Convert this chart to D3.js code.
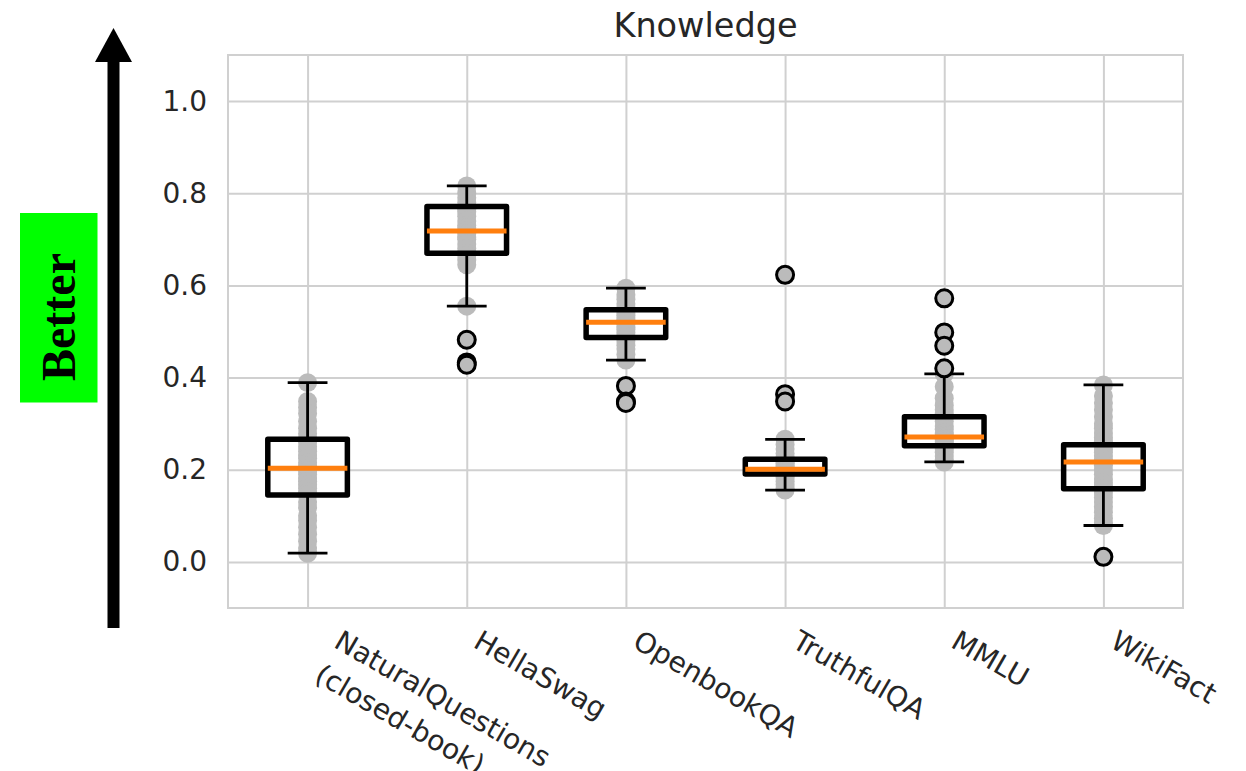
<!DOCTYPE html>
<html>
<head>
<meta charset="utf-8">
<script src="https://cdn.jsdelivr.net/npm/d3@7"></script>
<style>
  html, body { margin: 0; padding: 0; background: #fff; }
  svg { display: block; }
</style>
</head>
<body>
<svg id="chart" width="1246" height="771"></svg>
<script>
// ---------------- data ----------------
const categories = ["NaturalQuestions\n(closed-book)", "HellaSwag", "OpenbookQA", "TruthfulQA", "MMLU", "WikiFact"];
const yTicks = [0.0, 0.2, 0.4, 0.6, 0.8, 1.0];
const title = "Knowledge";

// box statistics
const whiskerLow  = [0.019, 0.555, 0.438, 0.156, 0.217, 0.079];
const q1          = [0.145, 0.670, 0.487, 0.191, 0.252, 0.159];
const median      = [0.203, 0.718, 0.520, 0.201, 0.271, 0.217];
const q3          = [0.266, 0.771, 0.547, 0.223, 0.315, 0.254];
const whiskerHigh = [0.389, 0.816, 0.594, 0.266, 0.408, 0.384];

// outliers (fliers)
const outliers = [
  [],
  [0.482, 0.433, 0.428],
  [0.382, 0.348, 0.345],
  [0.623, 0.364, 0.348],
  [0.572, 0.498, 0.469, 0.420],
  [0.011]
];

// individual model scores (grey dots)
const pointsNQ   = [0.389, 0.348, 0.335, 0.322, 0.305, 0.290, 0.278, 0.266, 0.260, 0.250, 0.240, 0.232, 0.225, 0.215, 0.208, 0.203, 0.198, 0.190, 0.182, 0.175, 0.168, 0.160, 0.152, 0.145, 0.130, 0.118, 0.100, 0.090, 0.075, 0.060, 0.045, 0.030, 0.019];
const pointsHS   = [0.816, 0.800, 0.790, 0.780, 0.771, 0.765, 0.760, 0.750, 0.740, 0.730, 0.725, 0.718, 0.712, 0.705, 0.700, 0.690, 0.680, 0.670, 0.665, 0.655, 0.645, 0.555, 0.482, 0.433, 0.428];
const pointsOBQA = [0.594, 0.580, 0.570, 0.560, 0.552, 0.547, 0.540, 0.535, 0.530, 0.525, 0.520, 0.516, 0.510, 0.505, 0.498, 0.490, 0.487, 0.480, 0.470, 0.462, 0.450, 0.438, 0.382, 0.348, 0.345];
const pointsTQA  = [0.623, 0.364, 0.348, 0.266, 0.255, 0.245, 0.235, 0.228, 0.223, 0.218, 0.214, 0.210, 0.206, 0.203, 0.201, 0.199, 0.197, 0.195, 0.193, 0.191, 0.188, 0.183, 0.175, 0.168, 0.160, 0.156];
const pointsMMLU = [0.572, 0.498, 0.469, 0.420, 0.408, 0.380, 0.355, 0.340, 0.330, 0.322, 0.315, 0.305, 0.295, 0.288, 0.280, 0.275, 0.271, 0.268, 0.265, 0.260, 0.256, 0.252, 0.245, 0.238, 0.230, 0.222, 0.217];
const pointsWF   = [0.384, 0.360, 0.345, 0.330, 0.315, 0.300, 0.290, 0.280, 0.270, 0.262, 0.254, 0.245, 0.238, 0.230, 0.222, 0.217, 0.210, 0.200, 0.190, 0.180, 0.172, 0.165, 0.159, 0.150, 0.140, 0.130, 0.120, 0.108, 0.095, 0.085, 0.079, 0.011];
const points = [pointsNQ, pointsHS, pointsOBQA, pointsTQA, pointsMMLU, pointsWF];

// ---------------- layout ----------------
const svg = d3.select("#chart");
const plot = { left: 228, right: 1183, top: 55, bottom: 608 };
const textColor = "#262626";
const gridColor = "#d0d0d0";
const fs = 28;

const x = d3.scaleLinear().domain([0.5, categories.length + 0.5]).range([plot.left, plot.right]);
const y = d3.scaleLinear().domain([-0.1, 1.1]).range([plot.bottom, plot.top]);
const pos = categories.map((c, i) => i + 1);
const step = x(2) - x(1);
const boxW = step * 0.5;
const capW = step * 0.25;

// grid (via axes)
const gY = svg.append("g").attr("transform", `translate(${plot.left},0)`)
  .call(d3.axisLeft(y).tickValues(yTicks).tickSize(-(plot.right - plot.left)).tickFormat(d3.format(".1f")).tickPadding(21));
gY.select(".domain").remove();
gY.selectAll(".tick line").attr("stroke", gridColor).attr("stroke-width", 2);
gY.selectAll(".tick text").attr("fill", textColor).attr("font-family", "DejaVu Sans").attr("font-size", fs);

const gX = svg.append("g").attr("transform", `translate(0,${plot.bottom})`)
  .call(d3.axisBottom(x).tickValues(pos).tickSize(-(plot.bottom - plot.top)).tickFormat(""));
gX.select(".domain").remove();
gX.selectAll(".tick line").attr("stroke", gridColor).attr("stroke-width", 2);

// frame
svg.append("rect")
  .attr("x", plot.left).attr("y", plot.top)
  .attr("width", plot.right - plot.left).attr("height", plot.bottom - plot.top)
  .attr("fill", "none").attr("stroke", gridColor).attr("stroke-width", 2);

// x labels (rotated, left aligned, bounding box starting at the tick)
const lineStep = 1.4;
pos.forEach((p, i) => {
  const lines = categories[i].split("\n");
  const ox = x(p) + 16 + (lines.length - 1) * lineStep * fs * 0.5;
  const t = svg.append("text")
    .attr("transform", `translate(${ox},${plot.bottom + 20}) rotate(30)`)
    .attr("font-family", "DejaVu Sans").attr("font-size", fs).attr("fill", textColor);
  lines.forEach((ln, j) => {
    t.append("tspan").attr("x", 0).attr("dy", j === 0 ? "0.76em" : lineStep + "em").text(ln);
  });
});

// title
svg.append("text")
  .attr("x", (plot.left + plot.right) / 2).attr("y", 37)
  .attr("text-anchor", "middle")
  .attr("font-family", "DejaVu Sans").attr("font-size", 33.5).attr("fill", textColor)
  .text(title);

// grey dots
const dots = svg.append("g");
points.forEach((arr, i) => {
  dots.selectAll(null).data(arr).enter().append("circle")
    .attr("cx", x(pos[i])).attr("cy", d => y(d)).attr("r", 9.5)
    .attr("fill", "#bbbbbb");
});

// boxes
const boxes = svg.append("g");
pos.forEach((p, i) => {
  const cx = x(p);
  // whiskers
  boxes.append("line").attr("x1", cx).attr("x2", cx).attr("y1", y(q3[i])).attr("y2", y(whiskerHigh[i]))
    .attr("stroke", "#000").attr("stroke-width", 2.8);
  boxes.append("line").attr("x1", cx).attr("x2", cx).attr("y1", y(q1[i])).attr("y2", y(whiskerLow[i]))
    .attr("stroke", "#000").attr("stroke-width", 2.8);
  // caps
  [whiskerHigh[i], whiskerLow[i]].forEach(v => {
    boxes.append("line").attr("x1", cx - capW / 2).attr("x2", cx + capW / 2).attr("y1", y(v)).attr("y2", y(v))
      .attr("stroke", "#000").attr("stroke-width", 2.8);
  });
  // box
  boxes.append("rect")
    .attr("x", cx - boxW / 2).attr("y", y(q3[i]))
    .attr("width", boxW).attr("height", y(q1[i]) - y(q3[i]))
    .attr("fill", "none").attr("stroke", "#000").attr("stroke-width", 5.5)
    .attr("stroke-linejoin", "round");
  // median
  boxes.append("line").attr("x1", cx - boxW / 2).attr("x2", cx + boxW / 2)
    .attr("y1", y(median[i])).attr("y2", y(median[i]))
    .attr("stroke", "#ff7f0e").attr("stroke-width", 5);
  // fliers
  boxes.selectAll(null).data(outliers[i]).enter().append("circle")
    .attr("cx", cx).attr("cy", d => y(d)).attr("r", 8.5)
    .attr("fill", "#bbbbbb").attr("stroke", "#000").attr("stroke-width", 3);
});

// "Better" arrow annotation
const ann = svg.append("g");
ann.append("line").attr("x1", 113.5).attr("x2", 113.5).attr("y1", 628).attr("y2", 60)
  .attr("stroke", "#000").attr("stroke-width", 12);
ann.append("path").attr("d", "M95,62 L132,62 L113.5,28 Z").attr("fill", "#000");
ann.append("rect").attr("x", 20).attr("y", 213).attr("width", 77.5).attr("height", 189.5).attr("fill", "#00ff00");
ann.append("text")
  .attr("transform", "translate(75,317) rotate(-90)")
  .attr("text-anchor", "middle")
  .attr("font-family", "Liberation Serif").attr("font-weight", "bold").attr("font-size", 48)
  .attr("fill", "#000")
  .text("Better");
</script>
</body>
</html>
